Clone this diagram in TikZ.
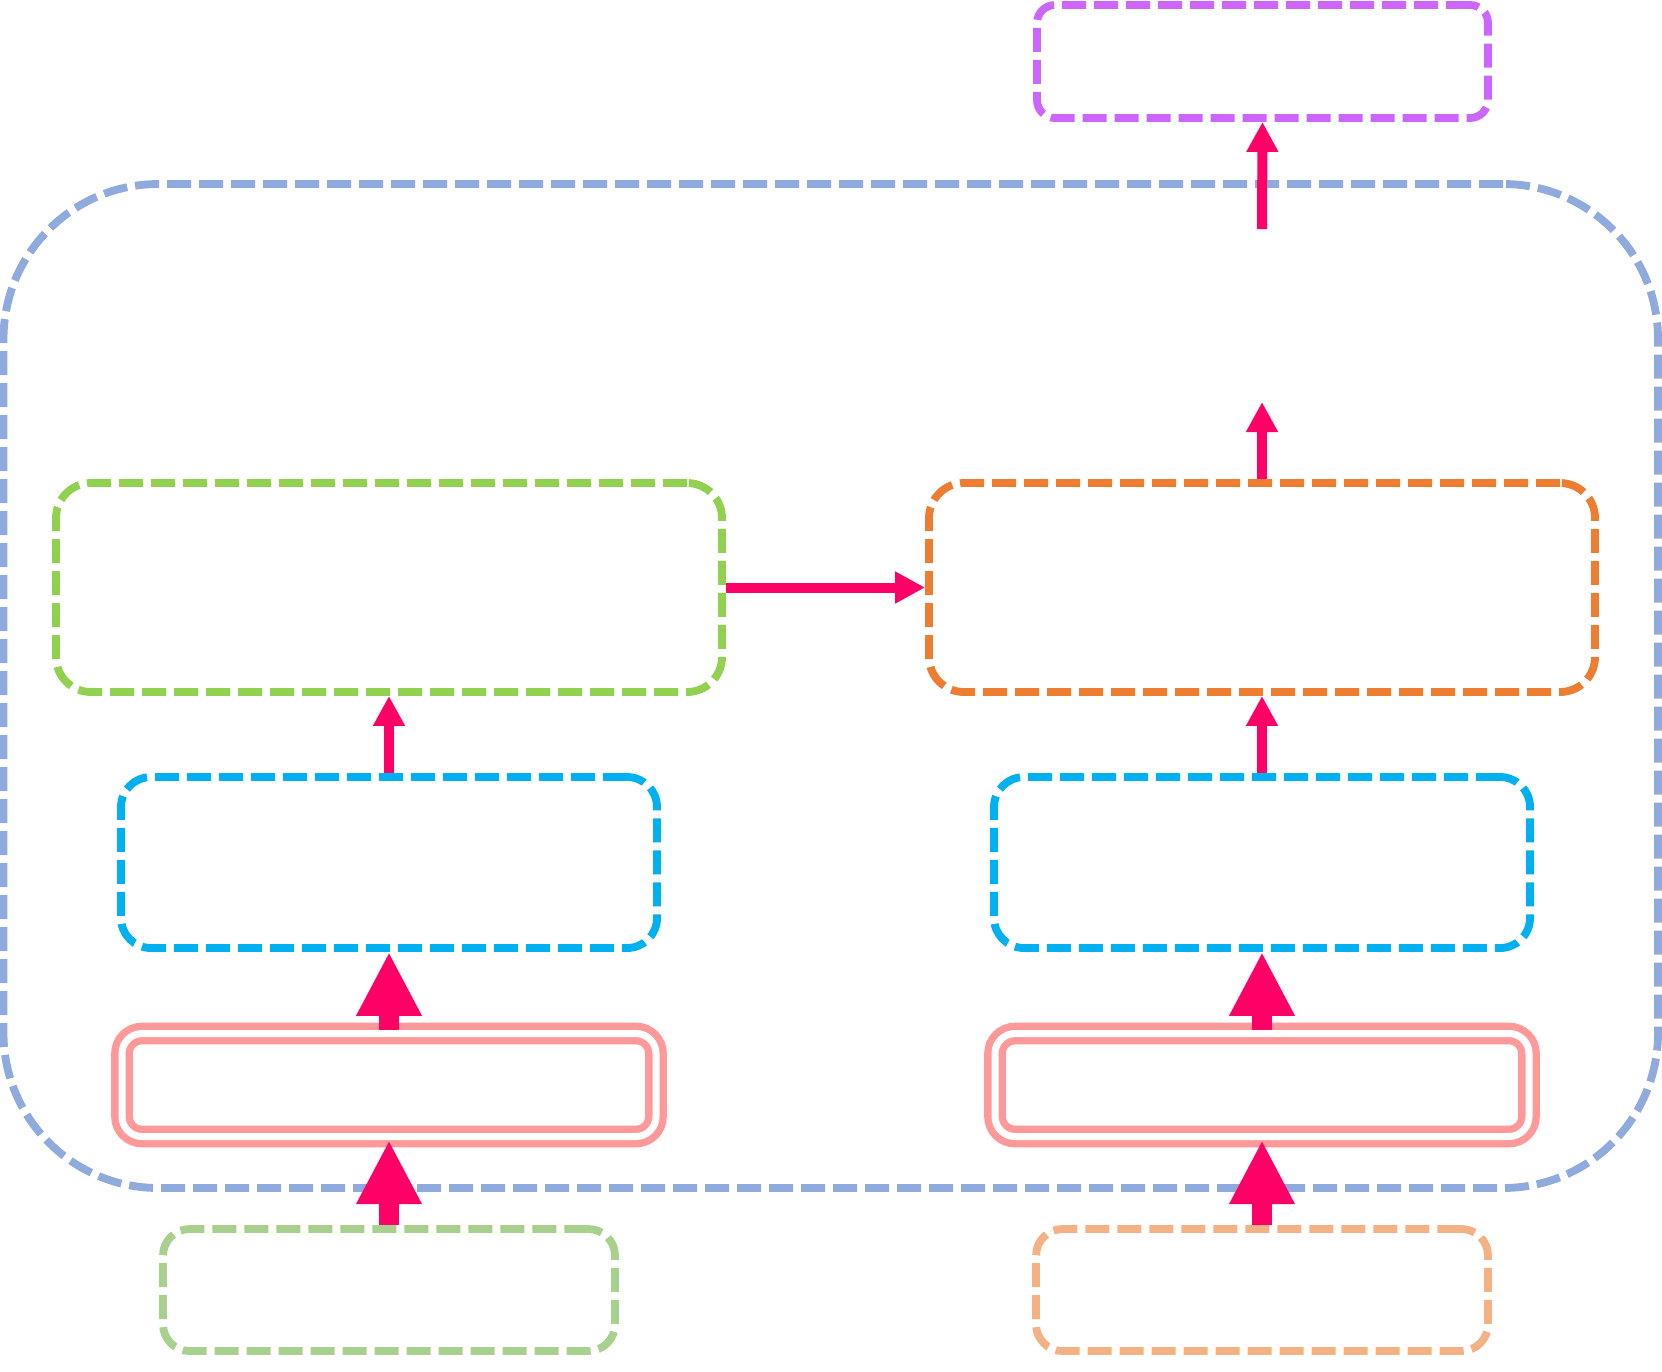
\documentclass[tikz,border=0pt]{standalone}
\usetikzlibrary{arrows.meta}
\definecolor{framecol}{HTML}{8FAADC}
\definecolor{outcol}{HTML}{CC66FF}
\definecolor{leftcol}{HTML}{92D050}
\definecolor{rightcol}{HTML}{ED7D31}
\definecolor{enccol}{HTML}{00B0F0}
\definecolor{embcol}{HTML}{FF9999}
\definecolor{inleftcol}{HTML}{A9D18E}
\definecolor{inrightcol}{HTML}{F4B183}
\definecolor{arrowcol}{HTML}{FF0066}
\tikzset{
    dashbox/.style={draw,rectangle,anchor=center,inner sep=0pt,line width=2.35pt,
        dash pattern=on 7.2pt off 2.4pt,rounded corners=9pt},
    embbox/.style={draw=embcol,double=white,double distance=2.1pt,line width=2.2pt,
        rectangle,anchor=center,inner sep=0pt,rounded corners=6pt,
        minimum width=160.2pt,minimum height=30.9pt},
    thinarrow/.style={draw=arrowcol,line width=3pt,-{Triangle[length=9pt,width=9pt]}},
    thickarrow/.style={draw=arrowcol,line width=6pt,-{Triangle[length=19.2pt,width=18.3pt]}}
}
\begin{document}
\begin{tikzpicture}[x=0.3pt,y=-0.3pt]
    \useasboundingbox (0,0) rectangle (1662,1371);

    % outer frame
    \node[dashbox,draw=framecol,rounded corners=46.5pt,minimum width=496.35pt,minimum height=301.2pt] (frame) at (830.75,686) {};

    % output
    \node[dashbox,draw=outcol,rounded corners=5.4pt,minimum width=135.3pt,minimum height=33.9pt] (out) at (1262.5,61.5) {};

    % upper blocks
    \node[dashbox,draw=leftcol,rounded corners=10.5pt,minimum width=199.8pt,minimum height=62.7pt] (upleft) at (389,587.5) {};
    \node[dashbox,draw=rightcol,rounded corners=10.5pt,minimum width=199.8pt,minimum height=62.7pt] (upright) at (1262,587.5) {};

    % encoders
    \node[dashbox,draw=enccol,minimum width=160.8pt,minimum height=51.3pt] (encleft) at (389,862.5) {};
    \node[dashbox,draw=enccol,minimum width=160.8pt,minimum height=51.3pt] (encright) at (1262,862.5) {};

    % embeddings
    \node[embbox] (embleft) at (389,1085) {};
    \node[embbox] (embright) at (1262,1085) {};

    % inputs
    \node[dashbox,draw=inleftcol,rounded corners=8pt,minimum width=135.6pt,minimum height=36.6pt] (inleft) at (389,1290) {};
    \node[dashbox,draw=inrightcol,rounded corners=8pt,minimum width=135.6pt,minimum height=36.6pt] (inright) at (1262,1290) {};

    \coordinate (gapbot) at (1262,402);
    \coordinate (gaptop) at (1262,229);

    % arrows
    \draw[thickarrow] (inleft.north) -- (embleft.south);
    \draw[thickarrow] (inright.north) -- (embright.south);
    \draw[thickarrow] (embleft.north) -- (encleft.south);
    \draw[thickarrow] (embright.north) -- (encright.south);
    \draw[thinarrow] (encleft.north) -- (upleft.south);
    \draw[thinarrow] (encright.north) -- (upright.south);
    \draw[thinarrow] (upleft.east) -- (upright.west);
    \draw[thinarrow] (upright.north) -- (gapbot);
    \draw[thinarrow] (gaptop) -- (out.south);
\end{tikzpicture}
\end{document}
